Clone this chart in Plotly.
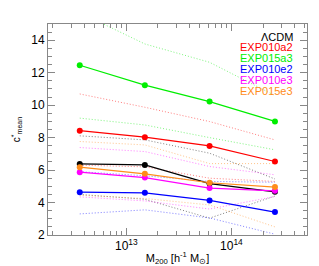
import plotly.graph_objects as go

mass = [3.6e12, 1.5e13, 6.2e13, 2.6e14]

models = ["ΛCDM", "EXP010a2", "EXP015a3", "EXP010e2", "EXP010e3", "EXP015e3"]
colors = ["#000000", "#FF0000", "#00EE00", "#0000FF", "#FF00FF", "#FF8C1A"]

c_mean = {
    "ΛCDM":     [6.38, 6.32, 5.17, 4.66],
    "EXP010a2": [8.43, 8.03, 7.49, 6.53],
    "EXP015a3": [12.46, 11.23, 10.22, 9.00],
    "EXP010e2": [4.64, 4.60, 4.13, 3.41],
    "EXP010e3": [5.87, 5.54, 4.89, 4.72],
    "EXP015e3": [6.18, 5.77, 5.22, 4.95],
}
c_upper = {
    "ΛCDM":     [8.11, 7.86, 7.04, 5.45],
    "EXP010a2": [10.69, 9.87, 8.99, 7.86],
    "EXP015a3": [15.7, 13.77, 12.64, 10.59],
    "EXP010e2": [5.90, 5.65, 5.30, 5.25],
    "EXP010e3": [7.39, 7.14, 6.22, 5.71],
    "EXP015e3": [7.76, 7.55, 6.40, 6.40],
}
c_lower = {
    "ΛCDM":     [4.50, 4.20, 3.04, 4.40],
    "EXP010a2": [6.30, 6.20, 5.50, 5.30],
    "EXP015a3": [9.20, 8.78, 8.00, 7.25],
    "EXP010e2": [3.30, 3.55, 3.05, 2.05],
    "EXP010e3": [4.35, 4.10, 3.60, 4.37],
    "EXP015e3": [4.45, 4.25, 3.85, 2.50],
}

fig = go.Figure()
for m, col in zip(models, colors):
    for band in (c_upper, c_lower):
        fig.add_trace(go.Scatter(
            x=mass, y=band[m], mode="lines",
            line=dict(color=col, width=1, dash="1px,2px"),
            opacity=0.5, showlegend=False, hoverinfo="skip"))
for m, col in zip(models, colors):
    fig.add_trace(go.Scatter(
        x=mass, y=c_mean[m], mode="lines+markers",
        line=dict(color=col, width=1.2),
        marker=dict(color=col, size=6),
        showlegend=False, hoverinfo="skip"))

for i, (m, col) in enumerate(zip(models, colors)):
    fig.add_annotation(
        xref="paper", yref="paper", x=0.952, y=0.94 - i * 0.0512,
        text=m, showarrow=False, xanchor="right", yanchor="middle",
        font=dict(color=col, size=11, family="Liberation Sans, Arial"))

axis_common = dict(
    showgrid=False, zeroline=False, showline=True, linecolor="#888888",
    linewidth=1, mirror="ticks", ticks="inside", tickcolor="#888888",
    automargin=False,
    tickfont=dict(color="#000000", size=12, family="Liberation Sans, Arial"),
)

fig.update_xaxes(
    type="log", range=[12.254, 14.72],
    tickvals=[1e13, 1e14], ticktext=["10<sup>13</sup>", "10<sup>14</sup>"],
    ticklen=7,
    minor=dict(ticks="inside", ticklen=4, tickcolor="#888888", dtick="D1", showgrid=False),
    title=dict(text="M<sub>200</sub> [h<sup>-1</sup> M<sub>⊙</sub>]",
               font=dict(size=11, color="#000000", family="Liberation Sans, Arial"),
               standoff=4),
    **axis_common)
fig.update_yaxes(
    range=[2, 15], tickmode="linear", tick0=2, dtick=2, ticklen=7,
    minor=dict(ticks="inside", ticklen=4, tickcolor="#888888", dtick=0.5, showgrid=False),
    title=dict(text="c<sup>*</sup><sub>mean</sub>",
               font=dict(size=10, color="#000000", family="Liberation Sans, Arial"),
               standoff=8),
    **axis_common)

fig.update_layout(
    width=319, height=266,
    margin=dict(l=48, r=12, t=24, b=31),
    paper_bgcolor="white", plot_bgcolor="white",
    showlegend=False, hovermode=False,
)
fig.write_html("out.html", config={"displayModeBar": False},
               post_script="document.body.style.margin='0';")
